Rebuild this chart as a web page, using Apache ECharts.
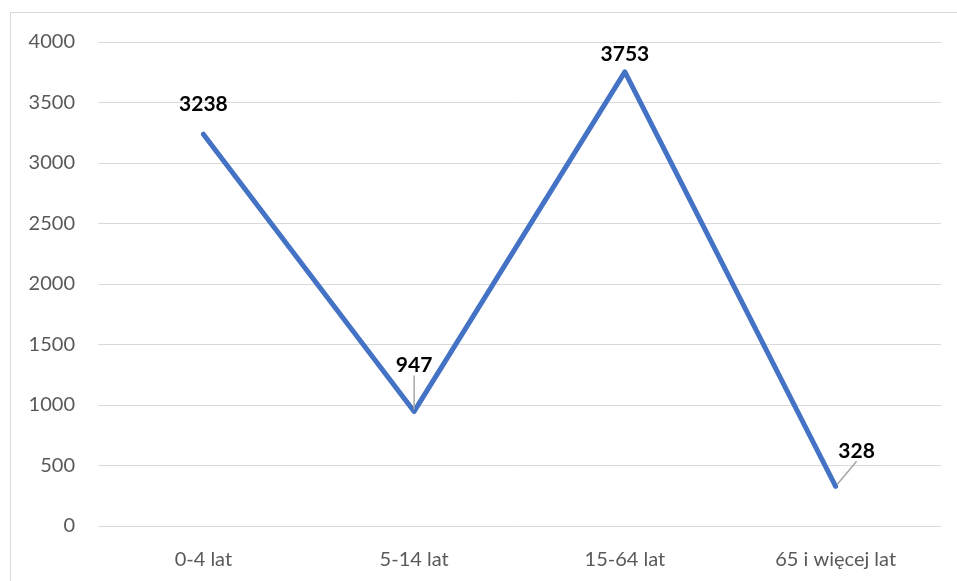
<!DOCTYPE html>
<html>
<head>
<meta charset="utf-8">
<script src="https://cdn.jsdelivr.net/npm/echarts@6/dist/echarts.min.js"></script>
<style>
	html, body { margin: 0; padding: 0; background: #fff; }
	.frame {
		position: absolute;
		left: 10px;
		top: 12px;
		width: 947px;
		height: 569px;
		border-left: 1px solid #d9d9d9;
		border-top: 1px solid #d9d9d9;
	}
	#chart {
		position: absolute;
		left: 0;
		top: 0;
		width: 957px;
		height: 581px;
	}
</style>
</head>
<body>
<div class="frame"></div>
<div id="chart"></div>
<script>
	var categories = ['0-4 lat', '5-14 lat', '15-64 lat', '65 i więcej lat'];
	var values = [3238, 947, 3753, 328];
	// label shifts (px) for each point, and whether it gets a leader line
	var labelShift = [[0, 0], [0, -17], [0, 12], [21, -6]];
	var leader = [false, true, false, true];

	var chart = echarts.init(document.getElementById('chart'));
	var font = 'Lato, "Open Sans", sans-serif';

	chart.setOption({
		animation: false,
		grid: { left: 98, right: 16, top: 42, bottom: 55, containLabel: false },
		xAxis: {
			type: 'category',
			data: categories,
			boundaryGap: true,
			axisLine: { show: false },
			axisTick: { show: false },
			axisLabel: { color: '#595959', fontSize: 20, fontFamily: font, margin: 24 }
		},
		yAxis: {
			type: 'value',
			min: 0,
			max: 4000,
			interval: 500,
			axisLine: { show: false },
			axisTick: { show: false },
			axisLabel: {
				color: '#595959', fontSize: 20, fontFamily: font, margin: 23,
				formatter: function (v) { return String(v); }
			},
			splitLine: { lineStyle: { color: '#d9d9d9', width: 1 } }
		},
		series: [{
			type: 'line',
			data: values.map(function (v, i) {
				return {
					value: v,
					labelLine: { show: leader[i] }
				};
			}),
			symbol: 'circle',
			symbolSize: 4,
			lineStyle: { color: '#4472c4', width: 5, cap: 'round', join: 'round' },
			itemStyle: { color: '#4472c4' },
			label: {
				show: true,
				position: 'top',
				distance: 17,
				color: '#000',
				fontWeight: 'bold',
				fontSize: 21,
				fontFamily: font,
				formatter: function (p) { return String(p.value); }
			},
			labelLine: { lineStyle: { color: '#a6a6a6', width: 1.5 } },
			labelLayout: function (params) {
				var i = params.dataIndex;
				var dx = labelShift[i][0], dy = labelShift[i][1];
				var out = { dx: dx, dy: dy };
				if (leader[i]) {
					var r = params.rect, l = params.labelRect;
					var cx = r.x + r.width / 2, cy = r.y + r.height / 2;
					var bottom = l.y + dy + l.height - 2;
					if (dx === 0) {
						out.labelLinePoints = [[cx, cy], [cx, bottom + 4]];
					} else {
						out.labelLinePoints = [[cx + 1, cy - 1], [l.x + dx + l.width * 0.6, bottom + 5]];
					}
				}
				return out;
			}
		}]
	});
</script>
</body>
</html>
